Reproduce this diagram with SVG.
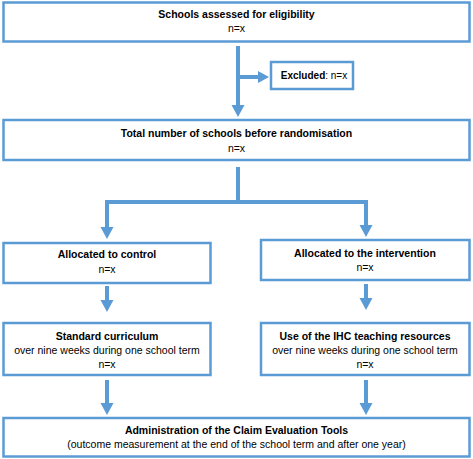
<svg xmlns="http://www.w3.org/2000/svg" width="473" height="459" viewBox="0 0 473 459">
<style>
.box{fill:#fff;stroke:#5b9bd5;stroke-width:2.5}
.ln{fill:none;stroke:#5b9bd5;stroke-width:4}
.ah{fill:#5b9bd5}
text{font-family:"Liberation Sans",Arial,sans-serif;font-size:10.5px;fill:#000;text-anchor:middle}
.b{font-weight:bold}
</style>
<rect width="473" height="459" fill="#fff"/>
<g id="connectors">
<path class="ln" d="M238 46V106"/>
<path class="ln" d="M238 77H259"/>
<polygon class="ah" points="258,71 269,77 258,83"/>
<polygon class="ah" points="231.5,105 244.5,105 238,117"/>
<path class="ln" d="M238 167V202M107 228V202H366V226"/>
<polygon class="ah" points="100.5,227 113.5,227 107,239"/>
<polygon class="ah" points="359.5,225 372.5,225 366,237"/>
<path class="ln" d="M107 286V301"/>
<polygon class="ah" points="100.5,300 113.5,300 107,312"/>
<path class="ln" d="M366 284V299"/>
<polygon class="ah" points="359.5,298 372.5,298 366,310"/>
<path class="ln" d="M107 380V404"/>
<polygon class="ah" points="100.5,403 113.5,403 107,415"/>
<path class="ln" d="M366 380V404"/>
<polygon class="ah" points="359.5,403 372.5,403 366,415"/>
</g>
<g id="n1"><rect class="box" x="3.5" y="2.5" width="466" height="39"/>
<text class="b" x="236.5" y="18">Schools assessed for eligibility</text>
<text x="236.5" y="32">n=x</text></g>
<g id="n2"><rect class="box" x="271" y="62" width="82" height="27"/>
<text x="314" y="79" style="font-size:10px"><tspan class="b">Excluded</tspan>: n=x</text></g>
<g id="n3"><rect class="box" x="3.5" y="120" width="466" height="40"/>
<text class="b" x="236.5" y="137">Total number of schools before randomisation</text>
<text x="236.5" y="152">n=x</text></g>
<g id="n4"><rect class="box" x="3.5" y="243" width="207" height="40"/>
<text class="b" x="107" y="258">Allocated to control</text>
<text x="107" y="273">n=x</text></g>
<g id="n5"><rect class="box" x="261" y="240" width="208.5" height="40"/>
<text class="b" x="365" y="257">Allocated to the intervention</text>
<text x="365" y="271">n=x</text></g>
<g id="n6"><rect class="box" x="3.5" y="323" width="207" height="52"/>
<text class="b" x="107" y="340">Standard curriculum</text>
<text x="107" y="354">over nine weeks during one school term</text>
<text x="107" y="368">n=x</text></g>
<g id="n7"><rect class="box" x="261" y="323" width="208.5" height="52"/>
<text class="b" x="365" y="340">Use of the IHC teaching resources</text>
<text x="365" y="354">over nine weeks during one school term</text>
<text x="365" y="368">n=x</text></g>
<g id="n8"><rect class="box" x="3.5" y="418" width="466" height="38.5"/>
<text class="b" x="236.5" y="434">Administration of the Claim Evaluation Tools</text>
<text x="236.5" y="448">(outcome measurement at the end of the school term and after one year)</text></g>
</svg>
